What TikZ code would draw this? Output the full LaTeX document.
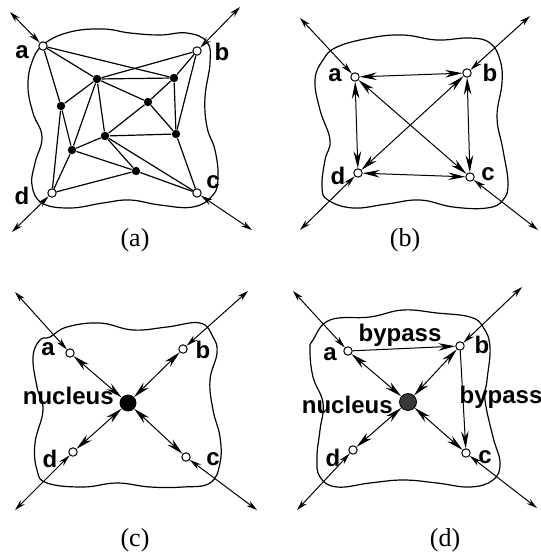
\documentclass[tikz,border=0pt]{standalone}
\usepackage{fontspec}
\setmainfont{Liberation Serif}
\setsansfont{Liberation Sans}
\usepackage{tikz}
\usetikzlibrary{arrows.meta}
\tikzset{
  blob/.style={line width=.6pt, black},
  port/.style={circle, draw, fill=white, line width=.5pt, inner sep=0pt,
               minimum size=4.2pt},
  dot/.style={circle, fill=black, inner sep=0pt, minimum size=4.2pt},
  core/.style={circle, draw, fill=black, inner sep=0pt, minimum size=8pt},
  lbl/.style={font=\sffamily\bfseries\fontsize{12}{12}\selectfont, inner sep=0pt},
  subcap/.style={font=\fontsize{13}{15}\selectfont, inner sep=0pt},
  edge/.style={line width=.6pt},
  ext/.style={line width=.5pt, {Stealth[length=5.5pt,width=3pt]}-{Stealth[length=6pt,width=3pt]}},
  link/.style={line width=.5pt, {Stealth[length=8.5pt,width=3.8pt]}-{Stealth[length=8.5pt,width=3.8pt]}},
  bypass/.style={line width=.5pt, -{Stealth[length=8.5pt,width=3.8pt]}}
}

\begin{document}
\begin{tikzpicture}[x=0.5pt, y=-0.5pt]
  \useasboundingbox (0,0) rectangle (540,556);

  % (a) full graph
  \draw[blob] plot[smooth cycle, tension=0.7] coordinates {(44,44) (70,32) (103,29)
    (130,33) (160,35) (187,33) (207,42) (210,63) (205,97) (207,127) (215,150) (218,177)
    (213,195) (193,207) (160,205) (130,200) (103,203) (70,208) (42,203) (32,185)
    (35,163) (42,137) (33,113) (28,87) (32,62)};
  \node[port] (a1) at (43,46) {};
  \node[port] (b1) at (197,51) {};
  \node[port] (c1) at (197,193) {};
  \node[port] (d1) at (52,193) {};
  \node[dot] (p1) at (97,79) {};
  \node[dot] (p2) at (174,78) {};
  \node[dot] (p3) at (148,102) {};
  \node[dot] (p4) at (61,106) {};
  \node[dot] (p5) at (105,136) {};
  \node[dot] (p6) at (176,134) {};
  \node[dot] (p7) at (72,150) {};
  \node[dot] (p8) at (136,171) {};
  \foreach \u/\v in {a1/p1, a1/p2, a1/p4, b1/p1, b1/p2, b1/p6, p1/p2, p1/p4, p1/p7,
    p1/p5, p1/p3, p2/p3, p2/p6, p3/p6, p3/p5, p5/p6, p5/p7, p5/p8, p5/c1, p8/c1,
    p7/p8, p4/p7, p4/d1, p7/d1, d1/p8, p6/c1}
    \draw[edge] (\u) -- (\v);
  \coordinate (ea1) at (10,12);
  \coordinate (eb1) at (240,7);
  \coordinate (ec1) at (252,230);
  \coordinate (ed1) at (12,232);
  \foreach \n in {a1,b1,c1,d1} \draw[ext] (e\n) -- (\n);
  \node[lbl] (la1) at (22,52) {a};
  \node[lbl] (lb1) at (222,52) {b};
  \node[lbl] (lc1) at (213,182) {c};
  \node[lbl] (ld1) at (22,196) {d};
  \node[subcap] (ca) at (135,240) {(a)};

  % (b) fully connected ports
  \draw[blob] plot[smooth cycle, tension=0.7] coordinates {(323,60) (337,47) (370,38)
    (403,35) (437,40) (470,38) (490,43) (500,60) (502,83) (497,117) (503,150) (508,183)
    (503,200) (487,208) (453,207) (420,200) (387,204) (353,208) (328,200) (322,187)
    (325,160) (330,140) (320,110) (315,80)};
  \node[port] (a2) at (355,77) {};
  \node[port] (b2) at (467,73) {};
  \node[port] (c2) at (470,177) {};
  \node[port] (d2) at (358,173) {};
  \foreach \u/\v in {a2/b2, a2/d2, b2/c2, d2/c2, a2/c2, b2/d2}
    \draw[link] (\u) -- (\v);
  \coordinate (ea2) at (300,18);
  \coordinate (eb2) at (530,16);
  \coordinate (ec2) at (538,230);
  \coordinate (ed2) at (300,230);
  \foreach \n in {a2,b2,c2,d2} \draw[ext] (e\n) -- (\n);
  \node[lbl] (la2) at (335,75) {a};
  \node[lbl] (lb2) at (490,73) {b};
  \node[lbl] (lc2) at (488,174) {c};
  \node[lbl] (ld2) at (338,176) {d};
  \node[subcap] (cb) at (405,240) {(b)};

  % (c) nucleus
  \draw[blob] plot[smooth cycle, tension=0.7] coordinates {(50,337) (67,327) (100,323)
    (133,330) (167,327) (200,323) (213,337) (217,353) (210,380) (213,410) (220,437)
    (220,463) (210,483) (183,487) (150,487) (117,483) (83,487) (47,483) (37,470)
    (35,443) (43,410) (37,387) (33,357) (40,340)};
  \node[port] (a3) at (70,353) {};
  \node[port] (b3) at (183,349) {};
  \node[port] (c3) at (186,457) {};
  \node[port] (d3) at (73,452) {};
  \node[core] (n3) at (128,403) {};
  \foreach \n in {a3,b3,c3,d3} \draw[link] (\n) -- (n3);
  \coordinate (ea3) at (15,292);
  \coordinate (eb3) at (248,291);
  \coordinate (ec3) at (257,510);
  \coordinate (ed3) at (15,510);
  \foreach \n in {a3,b3,c3,d3} \draw[ext] (e\n) -- (\n);
  \node[lbl] (la3) at (48,349) {a};
  \node[lbl] (lb3) at (203,350) {b};
  \node[lbl] (lc3) at (213,459) {c};
  \node[lbl] (ld3) at (50,459) {d};
  \node[lbl, anchor=east] (ln3) at (114,396) {nucleus};
  \node[subcap] (cc) at (135,540) {(c)};

  % (d) nucleus with bypass
  \draw[blob] plot[smooth cycle, tension=0.7] coordinates {(313,340) (330,320) (370,317)
    (403,310) (437,313) (470,317) (483,327) (490,347) (487,380) (485,400) (493,437)
    (500,463) (493,480) (470,487) (437,483) (403,480) (370,483) (337,487) (320,477)
    (317,457) (320,430) (323,403) (313,377) (310,350)};
  \node[port] (a4) at (348,351) {};
  \node[port] (b4) at (460,346) {};
  \node[port] (c4) at (466,453) {};
  \node[port] (d4) at (353,450) {};
  \node[core, fill=black!78, minimum size=8.5pt] (n4) at (408,402) {};
  \foreach \n in {a4,b4,c4,d4} \draw[link] (\n) -- (n4);
  \draw[bypass] (a4) -- (b4);
  \draw[bypass] (b4) -- (c4);
  \coordinate (ea4) at (293,291);
  \coordinate (eb4) at (522,287);
  \coordinate (ec4) at (537,508);
  \coordinate (ed4) at (297,510);
  \foreach \n in {a4,b4,c4,d4} \draw[ext] (e\n) -- (\n);
  \node[lbl] (la4) at (330,354) {a};
  \node[lbl] (lb4) at (482,345) {b};
  \node[lbl] (lc4) at (485,457) {c};
  \node[lbl] (ld4) at (333,458) {d};
  \node[lbl, anchor=east] (ln4) at (393,405) {nucleus};
  \node[lbl] (lt4) at (400,335) {bypass};
  \node[lbl] (lr4) at (501,397) {bypass};
  \node[subcap] (cd) at (445,540) {(d)};
\end{tikzpicture}
\end{document}
